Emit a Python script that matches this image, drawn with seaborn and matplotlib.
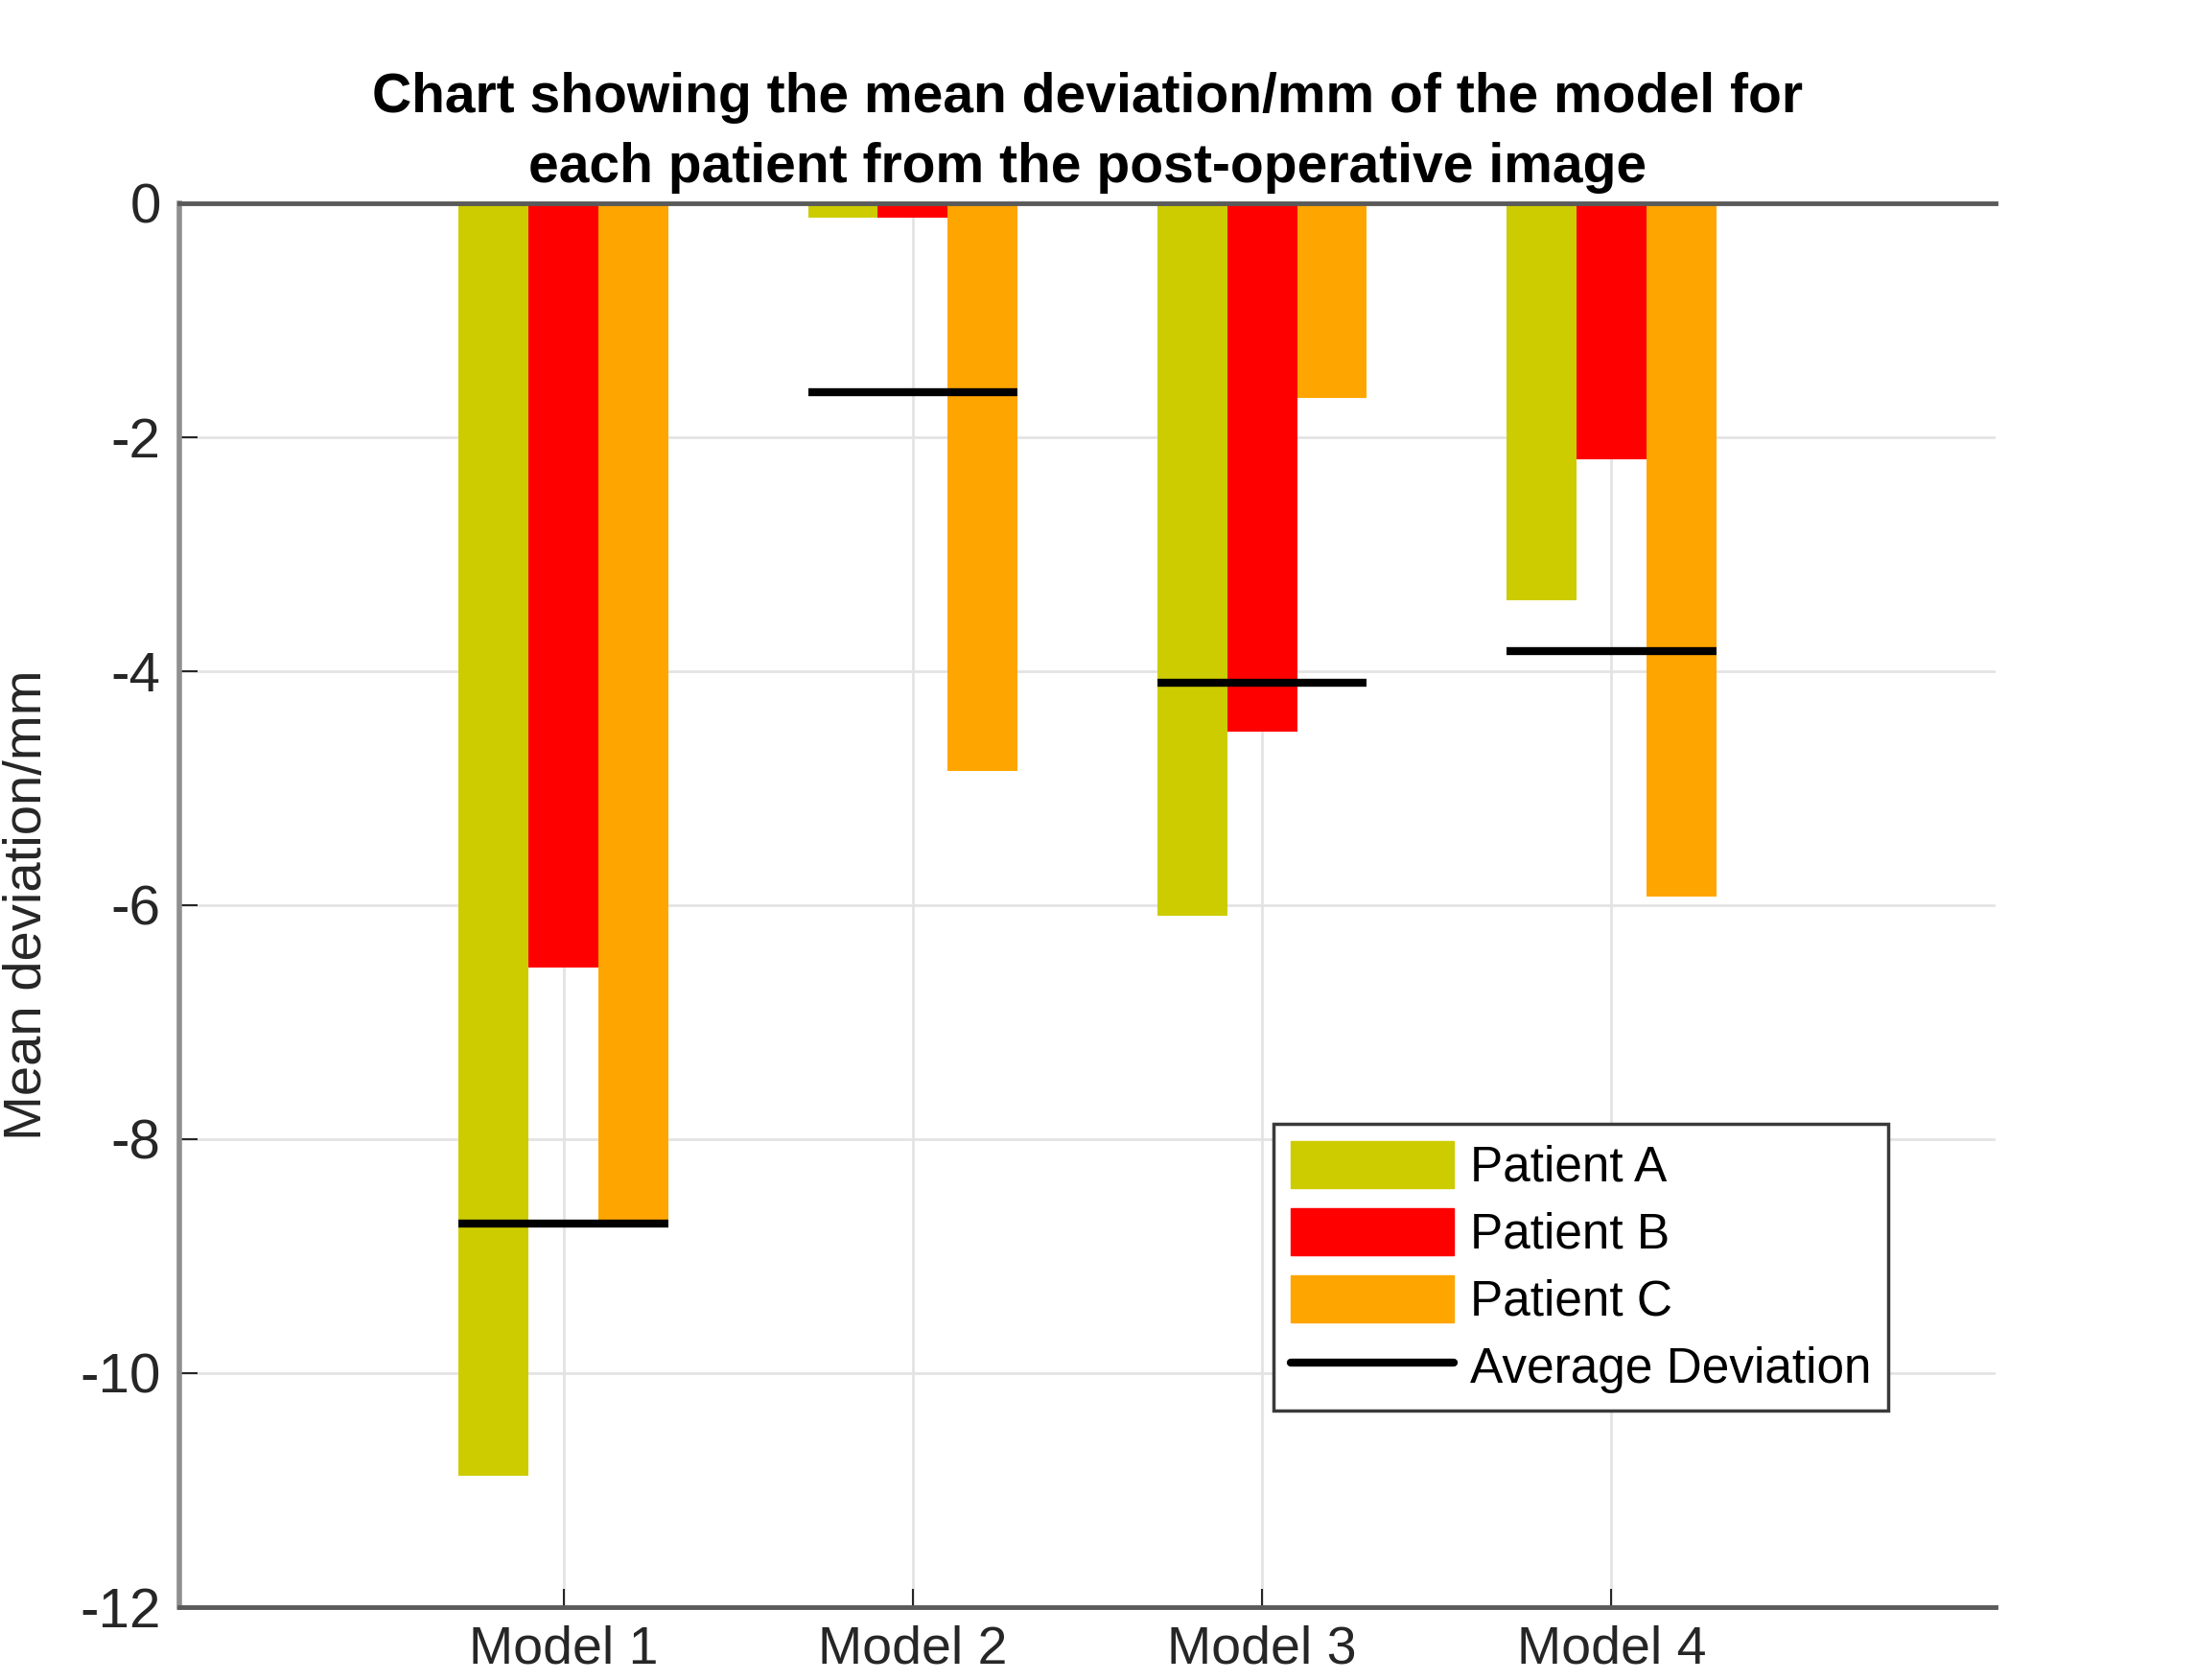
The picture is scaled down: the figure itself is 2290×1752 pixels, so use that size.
import matplotlib
matplotlib.use("Agg")
import matplotlib.pyplot as plt
import seaborn as sns
import pandas as pd
from matplotlib.patches import Patch
from matplotlib.lines import Line2D

models = ["Model 1", "Model 2", "Model 3", "Model 4"]
patients = ["Patient A", "Patient B", "Patient C"]
patient_a = [-10.88, -0.12, -6.09, -3.39]
patient_b = [-6.53, -0.12, -4.52, -2.19]
patient_c = [-8.69, -4.85, -1.66, -5.93]
averages = [-8.72, -1.615, -4.10, -3.83]
yticks = [0, -2, -4, -6, -8, -10, -12]
colors = ["#CCCC00", "#FF0000", "#FFA500"]

rows = []
for p, vals in zip(patients, [patient_a, patient_b, patient_c]):
    for m, v in zip(models, vals):
        rows.append({"model": m, "patient": p, "value": v})
df = pd.DataFrame(rows)

sns.set_theme(style="white")
plt.rcParams["font.family"] = ["Liberation Sans", "DejaVu Sans"]

fig = plt.figure(figsize=(22.9, 17.52), dpi=100)
ax = fig.add_axes([0.0817, 0.0434, 0.827, 0.8356])

sns.barplot(data=df, x="model", y="value", hue="patient", order=models,
            hue_order=patients, palette=colors, width=0.6, gap=0,
            saturation=1, errorbar=None, ax=ax, legend=False, zorder=2,
            linewidth=0)

for i, avg in enumerate(averages):
    ax.hlines(avg, i - 0.3, i + 0.3, colors="black", linewidth=6, zorder=4)

ax.set_xlim(-1.1, 4.1)
ax.set_ylim(-12, 0)
ax.set_yticks(yticks)
ax.set_yticklabels([str(t) for t in yticks])
ax.set_xlabel("")
ax.set_ylabel("Mean deviation/mm", fontsize=40.5, labelpad=20, color="#262626")

ax.grid(True, color="#E3E3E3", linewidth=2)
ax.set_axisbelow(True)

for s in ["top", "bottom"]:
    ax.spines[s].set_color("#5A5A5A")
    ax.spines[s].set_linewidth(3.5)
ax.spines["left"].set_color("#8F8F8F")
ax.spines["left"].set_linewidth(4)
ax.spines["right"].set_visible(False)

ax.tick_params(axis="both", direction="in", length=14, width=1.5,
               color="#262626", labelsize=40, labelcolor="#262626")
ax.tick_params(axis="y", pad=14, labelsize=42)
ax.tick_params(axis="x", pad=13)
ax.tick_params(axis="x", bottom=True)
ax.tick_params(axis="y", left=True)

ax.set_title("Chart showing the mean deviation/mm of the model for\n"
             "each patient from the post-operative image",
             fontsize=41, fontweight="bold", pad=16, linespacing=1.45,
             color="black")

handles = [Patch(facecolor=c, edgecolor=c) for c in colors]
handles.append(Line2D([0], [0], color="black", linewidth=6))
labels = patients + ["Average Deviation"]
leg = ax.legend(handles, labels, loc="lower right",
                bbox_to_anchor=(0.941, 0.140), fontsize=37,
                handlelength=3.3, handleheight=1.1, handletextpad=0.33,
                labelspacing=0.33, borderpad=0.35, borderaxespad=0,
                fancybox=False, framealpha=1)
leg.get_frame().set_edgecolor("#3A3A3A")
leg.get_frame().set_linewidth(2.5)
for t in leg.get_texts():
    t.set_color("black")

fig.savefig("out.png", dpi=100)
